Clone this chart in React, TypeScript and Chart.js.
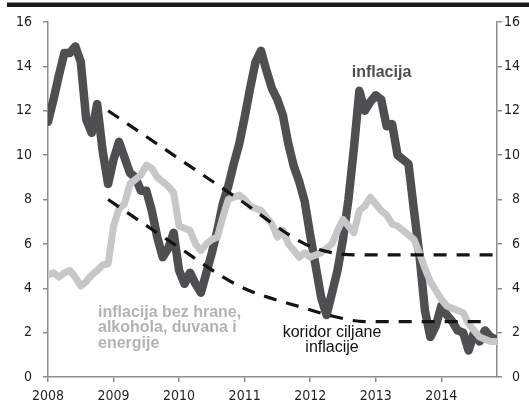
import React, { useEffect, useRef } from 'react';
import { Chart, registerables } from 'chart.js';

Chart.register(...registerables);

// ---- data ----
const startYear = 2008;
const yearTickMonths = [0, 12, 24, 36, 48, 60, 72];
const axisMaxMonth = 82.2;
const yTickStep = 2;

// monthly headline inflation, Jan 2008 .. Nov 2014
const inflation = [
  11.5, 12.5, 13.6, 14.6, 14.6, 14.9, 14.2, 11.6, 11.0, 12.3, 10.2, 8.7,
  9.8, 10.6, 9.9, 9.2, 9.0, 8.4, 8.4, 7.5, 6.3, 5.4, 5.8, 6.5,
  4.8, 4.2, 4.7, 4.2, 3.8, 4.7, 5.6, 6.6, 7.8, 8.6, 9.6, 10.5,
  11.7, 13.0, 14.2, 14.7, 13.8, 13.0, 12.5, 11.8, 10.5, 9.5, 8.8, 7.9,
  6.4, 5.0, 3.6, 2.8, 3.8, 4.8, 6.2, 8.0, 10.3, 12.9, 12.0, 12.4,
  12.7, 12.5, 11.3, 11.4, 10.0, 9.8, 9.6, 7.5, 5.5, 3.0, 1.8, 2.3,
  3.2, 2.8, 2.5, 2.1, 2.0, 1.2, 2.0, 1.6, 2.1, 1.8, 1.7,
];

// monthly core inflation (bez hrane, alkohola, duvana i energije)
const coreInflation = [
  4.6, 4.7, 4.5, 4.7, 4.8, 4.5, 4.1, 4.3, 4.6, 4.8, 5.05, 5.1,
  6.8, 7.6, 7.8, 8.7, 8.9, 9.1, 9.55, 9.4, 9.0, 8.8, 8.6, 8.3,
  6.8, 6.7, 6.6, 6.0, 5.7, 6.0, 6.2, 6.3, 7.2, 8.0, 8.1, 8.2,
  8.0, 7.7, 7.6, 7.5, 7.2, 6.9, 6.3, 6.6, 6.0, 5.7, 5.4, 5.6,
  5.4, 5.5, 5.6, 5.8, 6.0, 6.6, 7.1, 6.8, 6.5, 7.5, 7.7, 8.1,
  7.8, 7.5, 7.3, 6.9, 6.8, 6.6, 6.4, 6.2, 5.6, 4.9, 4.3, 3.9,
  3.5, 3.2, 3.1, 3.0, 2.9, 2.4, 2.1, 1.8, 1.7, 1.6, 1.6,
];

// target corridor (koridor ciljane inflacije)
const upperMonths = [11, 23, 35, 47, 52, 57, 82.2];
const upperValues = [12, 10, 8, 6, 5.6, 5.5, 5.5];
const lowerMonths = [11, 23, 35, 47, 52, 58, 79.5];
const lowerValues = [8, 6, 4.1, 3.1, 2.75, 2.5, 2.5];

// ---- styles ----
const AXIS_GRAY = '#8c8c8c';
const TICK_TEXT = '#231f20';
const DARK = '#4f4f51';
const LIGHT = '#c6c7c8';
const LIGHT_TEXT = '#b3b3b3';
const TICK_FONT = { family: "'Liberation Sans Narrow', 'DejaVu Sans Condensed', sans-serif", size: 14 };

const annotationPlugin = {
  id: 'annotations',
  beforeDraw(chart: any) {
    const ctx = chart.ctx;
    ctx.save();
    ctx.fillStyle = '#1a1a1a';
    ctx.fillRect(7, 2.5, 522, 4.5);
    ctx.restore();
  },
  afterDraw(chart: any) {
    const ctx = chart.ctx;
    ctx.save();
    ctx.textBaseline = 'alphabetic';

    ctx.font = "bold 16px 'Liberation Sans', Arial, sans-serif";
    ctx.fillStyle = DARK;
    ctx.textAlign = 'center';
    ctx.fillText('inflacija', 381.5, 76.5);

    ctx.fillStyle = LIGHT_TEXT;
    ctx.textAlign = 'left';
    ctx.fillText('inflacija bez hrane,', 98, 316.7);
    ctx.fillText('alkohola, duvana i', 98, 332.3);
    ctx.fillText('energije', 98, 348.1);

    ctx.font = "16px 'Liberation Sans', Arial, sans-serif";
    ctx.fillStyle = '#111111';
    ctx.textAlign = 'center';
    ctx.fillText('koridor ciljane', 332, 336.5);
    ctx.fillText('inflacije', 332, 351.5);
    ctx.restore();
  },
};

export default function App() {
  const canvasRef = useRef<HTMLCanvasElement | null>(null);

  useEffect(() => {
    if (!canvasRef.current) return;
    const dashed = {
      borderColor: '#141414',
      borderWidth: 3.2,
      borderDash: [13, 10],
      borderCapStyle: 'butt',
      pointRadius: 0,
      fill: false,
      cubicInterpolationMode: 'monotone',
    };
    const chart = new Chart(canvasRef.current, {
      type: 'line',
      data: {
        datasets: [
          {
            ...dashed,
            label: 'upper',
            data: upperMonths.map((m, i) => ({ x: m, y: upperValues[i] })),
          } as any,
          {
            ...dashed,
            label: 'lower',
            data: lowerMonths.map((m, i) => ({ x: m, y: lowerValues[i] })),
          } as any,
          {
            label: 'core',
            data: coreInflation.map((v, i) => ({ x: i, y: v })),
            borderColor: LIGHT,
            borderWidth: 7,
            pointRadius: 0,
            borderJoinStyle: 'round',
            borderCapStyle: 'round',
            tension: 0,
          },
          {
            label: 'inflation',
            data: inflation.map((v, i) => ({ x: i, y: v })),
            borderColor: DARK,
            borderWidth: 8.5,
            pointRadius: 0,
            borderJoinStyle: 'round',
            borderCapStyle: 'round',
            tension: 0,
          },
        ],
      },
      options: {
        animation: false,
        responsive: false,
        layout: { padding: { top: 22, right: 9, left: 0, bottom: 0 } },
        plugins: { legend: { display: false }, tooltip: { enabled: false } },
        scales: {
          x: {
            type: 'linear',
            min: 0,
            max: axisMaxMonth,
            afterBuildTicks: (s: any) => {
              s.ticks = yearTickMonths.map((v) => ({ value: v }));
            },
            afterFit: (s: any) => {
              s.height = 26;
            },
            ticks: {
              callback: (v: any) => String(startYear + Math.round(Number(v) / 12)),
              font: TICK_FONT,
              color: TICK_TEXT,
              padding: 6,
              maxRotation: 0,
              autoSkip: false,
            },
            grid: { drawOnChartArea: false, drawTicks: true, tickLength: 5, color: AXIS_GRAY, lineWidth: 1.5 },
            border: { display: true, color: AXIS_GRAY, width: 1.5 },
          },
          y: {
            position: 'left',
            min: 0,
            max: 16,
            afterFit: (s: any) => {
              s.width = 48;
            },
            ticks: { stepSize: yTickStep, font: TICK_FONT, color: TICK_TEXT, padding: 11 },
            grid: { drawOnChartArea: false, drawTicks: true, tickLength: 5, color: AXIS_GRAY, lineWidth: 1.5 },
            border: { display: true, color: AXIS_GRAY, width: 1.5 },
          },
          y2: {
            position: 'right',
            min: 0,
            max: 16,
            afterFit: (s: any) => {
              s.width = 23;
            },
            ticks: { stepSize: yTickStep, font: TICK_FONT, color: TICK_TEXT, padding: 3, crossAlign: 'far' },
            grid: { drawOnChartArea: false, drawTicks: true, tickLength: 5, color: AXIS_GRAY, lineWidth: 1.5 },
            border: { display: true, color: AXIS_GRAY, width: 1.5 },
          },
        },
      } as any,
      plugins: [annotationPlugin],
    });
    return () => chart.destroy();
  }, []);

  return (
    <div style={{ position: 'fixed', left: 0, top: 0, width: 529, height: 403, background: '#ffffff' }}>
      <canvas ref={canvasRef} width={529} height={403} style={{ display: 'block' }} />
    </div>
  );
}
